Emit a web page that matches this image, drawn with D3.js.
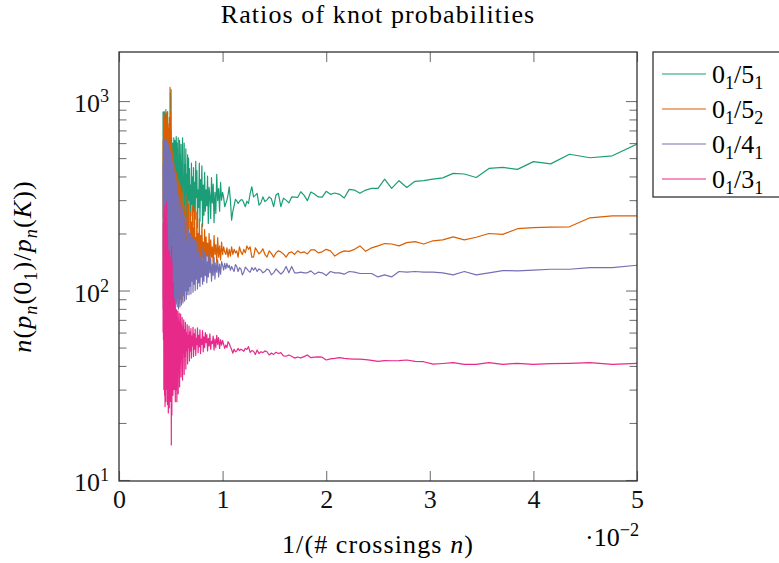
<!DOCTYPE html>
<html>
<head>
<meta charset="utf-8">
<script src="https://cdn.jsdelivr.net/npm/d3@7"></script>
<style>
  body { margin: 0; background: #fff; }
  svg { font-family: 'Liberation Serif', 'DejaVu Serif', serif; }
  .tick line { stroke: #777; stroke-width: 1.1; }
  .domain { display: none; }
  .words { letter-spacing: 1.1px; }
</style>
</head>
<body>
<svg width="779" height="563"></svg>
<script>
  // crossing numbers n, the x value is 1/n
  const crossings = d3.range(20, 236);

  // n(p_n(0_1)/p_n(K)), one value for each n = 20 .. 235
  const ratio51 = [
    593, 514, 502, 524, 466, 479, 436, 447, 441, 395, 412, // 20-30
    415, 393, 387, 380, 377, 350, 380, 346, 387, 346, // 31-40
    346, 339, 326, 339, 342, 308, 322, 327, 322, 334, // 41-50
    311, 312, 323, 331, 298, 319, 332, 310, 311, 312, // 51-60
    290, 300, 307, 277, // 61-64
    326, 319, 277, 305, 312, 301, 295, 312, 290, 282, // 65-74
    326, 318, 312, 353, 326, 288, 296, 277, 290, 301, // 75-84
    301, 295, 288, 298, 303, 280, 262, 235, 300, 353, // 85-94
    320, 300, 288, 277, 310, 330, // 95-100
    300, 372, 262, 345, 298, 410, 255, 330, 228, 365, // 101-110
    290, 395, 240, 318, 350, 226, 402, 280, 340, 262, // 111-120
    420, 250, 360, 218, 455, 300, 385, 232, 470, 275, // 121-130
    340, 215, 430, 310, 480, 238, 372, 262, 445, 220, // 131-140
    398, 285, 470, 248, 360, 212, 440, 300, 500, 235, // 141-150
    520, 260, 410, 205, 560, 310, 460, 228, 600, 280, // 151-160
    380, 210, 640, 330, 470, 240, 590, 215, 520, 300, // 161-170
    620, 232, 450, 205, 640, 290, 560, 225, 600, 260, // 171-180
    650, 240, 520, 180, 620, 300, 560, 200, 640, 260, // 181-190
    480, 170, 600, 320, 560, 250, 640, 190, 1150, 280, // 191-200
    1100, 170, 620, 230, 500, 160, 640, 300, 580, 200, // 201-210
    700, 220, 880, 160, 620, 300, 840, 180, 760, 250, // 211-220
    900, 150, 680, 280, 860, 200, 720, 170, 880, 260, // 221-230
    640, 190, 870, 240, 880 // 231-235
  ];

  const ratio52 = [
    248, 248, 242, 217, 216, 215, 212, 198, 200, 191, 185, // 20-30
    192, 185, 183, 176, 181, 179, 172, 176, 177, 172, // 31-40
    168, 161, 172, 165, 161, 162, 158, 152, 162, 165, // 41-50
    160, 158, 164, 164, 156, 160, 158, 162, 155, 160, // 51-60
    158, 150, 156, 160, // 61-64
    162, 158, 150, 157, 162, 150, 155, 166, 160, 156, // 65-74
    162, 168, 150, 150, 170, 165, 172, 158, 165, 155, // 75-84
    160, 170, 150, 162, 158, 165, 155, 170, 152, 165, // 85-94
    150, 168, 155, 160, 170, 155, // 95-100
    180, 145, 172, 150, 190, 140, 175, 155, 195, 138, // 101-110
    170, 150, 185, 142, 200, 135, 178, 152, 192, 140, // 111-120
    210, 130, 180, 148, 225, 128, 195, 140, 240, 125, // 121-130
    200, 150, 260, 122, 190, 135, 270, 118, 215, 145, // 131-140
    280, 120, 230, 130, 260, 115, 200, 140, 285, 118, // 141-150
    300, 110, 240, 130, 320, 100, 260, 120, 280, 95, // 151-160
    350, 115, 270, 88, 330, 125, 290, 90, 360, 105, // 161-170
    310, 86, 380, 120, 300, 92, 400, 110, 340, 88, // 171-180
    420, 100, 360, 80, 450, 120, 380, 85, 480, 95, // 181-190
    520, 75, 440, 110, 560, 80, 600, 90, 700, 100, // 191-200
    880, 70, 1180, 95, 820, 80, 600, 110, 720, 72, // 201-210
    760, 65, 820, 90, 680, 60, 870, 100, 720, 58, // 211-220
    800, 85, 650, 57, 860, 95, 700, 62, 820, 80, // 221-230
    760, 58, 850, 90, 620 // 231-235
  ];

  const ratio41 = [
    136, 132, 132, 129.5, 129.5, 128, 127, 127.5, 124, 121, 126, // 20-30
    121, 124, 125, 125, 126, 125, 126, 118, 121, 118, // 31-40
    123, 123, 123, 125, 126, 122, 124, 124, 126, 120, // 41-50
    124, 125, 122, 127, 124, 124, 125, 124, 124, 134, // 51-60
    124, 134, 126, 122, // 61-64
    126, 130, 124, 121, 128, 130, 126, 124, 128, 130, // 65-74
    126, 132, 128, 132, 125, 127, 130, 133, 125, 121, // 75-84
    130, 132, 126, 134, 137, 126, 130, 134, 128, 136, // 85-94
    132, 139, 130, 139, 128, 136, // 95-100
    142, 122, 138, 118, 145, 125, 140, 115, 150, 120, // 101-110
    138, 112, 148, 124, 155, 118, 142, 110, 152, 120, // 111-120
    160, 112, 145, 108, 170, 118, 150, 105, 175, 110, // 121-130
    160, 102, 180, 115, 155, 100, 185, 108, 165, 98, // 131-140
    190, 112, 170, 96, 200, 105, 175, 95, 210, 100, // 141-150
    220, 95, 180, 90, 240, 100, 200, 88, 250, 94, // 151-160
    210, 86, 270, 98, 220, 84, 290, 92, 240, 82, // 161-170
    300, 90, 250, 80, 320, 95, 260, 82, 350, 88, // 171-180
    380, 85, 300, 80, 420, 92, 340, 78, 450, 86, // 181-190
    380, 76, 480, 90, 400, 78, 520, 84, 420, 75, // 191-200
    540, 88, 460, 76, 560, 82, 480, 74, 580, 80, // 201-210
    600, 78, 500, 75, 610, 85, 540, 74, 620, 80, // 211-220
    560, 76, 600, 78, 520, 75, 620, 82, 580, 76, // 221-230
    610, 79, 550, 80, 460 // 231-235
  ];

  const ratio31 = [
    41.3, 40.8, 41.6, 41.3, 41.1, 40.8, 41.3, 40.8, 41.6, 40.8, 40.8, // 20-30
    41.6, 41.2, 40.9, 42.1, 42.3, 43, 42.7, 42.6, 42.7, 42.3, // 31-40
    42.8, 43.2, 43.4, 43.4, 43.6, 43.8, 44.2, 43.8, 43.6, 43, // 41-50
    44.5, 44.6, 44.5, 44.2, 45.7, 44.8, 44.1, 44.6, 44.0, 45.0, // 51-60
    45.7, 45.0, 45.2, 47, // 61-64
    46.5, 47.2, 46.0, 46.8, 45.7, 47.5, 48.0, 47.0, 47.5, 46.5, // 65-74
    48.5, 46.0, 47.8, 48.2, 47.2, 50.6, 48.8, 49.5, 47.8, 48.5, // 75-84
    49.0, 48.2, 49.5, 48.0, 47.5, 49.0, 46.7, 48.8, 50.5, 52.5, // 85-94
    53.7, 50.0, 51.5, 49.5, 52.0, 54.5, // 95-100
    51.5, 55.0, 49.5, 56.5, 52.0, 58.0, 50.0, 55.5, 48.5, 57.5, // 101-110
    52.5, 54.0, 49.0, 59.0, 51.0, 56.0, 48.0, 58.5, 53.0, 60.0, // 111-120
    50.0, 57.0, 47.5, 61.5, 52.0, 55.5, 46.5, 62.0, 50.5, 58.0, // 121-130
    47.0, 63.5, 52.0, 56.0, 45.5, 62.5, 49.0, 59.0, 44.8, 64.0, // 131-140
    51.0, 57.5, 44.0, 63.0, 48.0, 60.5, 42.5, 65.0, 50.0, 58.0, // 141-150
    41.0, 66.0, 48.0, 60.0, 38.5, 68.0, 45.0, 62.0, 36.0, 70.0, // 151-160
    47.0, 64.0, 33.7, 72.0, 44.0, 66.0, 35.0, 75.0, 42.0, 68.0, // 161-170
    31.0, 76.0, 46.0, 70.0, 28.5, 78.0, 40.0, 72.0, 25.9, 79.0, // 171-180
    62.0, 30.0, 80.0, 25.9, 72.0, 38.0, 90.0, 30.0, 85.0, 35.0, // 181-190
    110.0, 28.0, 95.0, 32.0, 140.0, 22.0, 170.0, 15.3, 120.0, 30.0, // 191-200
    150.0, 26.0, 105.0, 34.0, 160.0, 24.0, 130.0, 30.0, 165.0, 22.6, // 201-210
    140.0, 28.0, 190.0, 25.0, 220.0, 32.0, 260.0, 294.0, 30.0, 240.0, // 211-220
    26.0, 200.0, 35.0, 250.0, 24.4, 280.0, 28.0, 210.0, 34.0, 260.0, // 221-230
    30.0, 230.0, 55.0, 226.0, 60.0 // 231-235
  ];

  const seriesNames = [['5', '1'], ['5', '2'], ['4', '1'], ['3', '1']];
  const seriesColors = ['#1b9e77', '#d95f02', '#7570b3', '#e7298a'];
  const xTicks = [0, 0.01, 0.02, 0.03, 0.04, 0.05];
  const xTickLabels = ['0', '1', '2', '3', '4', '5'];
  const yMajorTicks = [10, 100, 1000];

  const plot = {left: 119, right: 637, top: 52, bottom: 481};
  const fontSize = 26;

  const svg = d3.select('svg');

  const xScale = d3.scaleLinear().domain([0, 0.05]).range([plot.left, plot.right]);
  const yScale = d3.scaleLog().domain([9.88, 1815]).range([plot.bottom, plot.top]);
  const yMinorTicks = yScale.ticks().filter((d) => yMajorTicks.indexOf(d) < 0);

  // writes text made of parts: [string, 'it' | 'sub' | 'sup' | 'subit']
  function mathText(sel, parts, size) {
    let shift = 0;
    parts.forEach(function(p) {
      const kind = p[1] || '';
      const ts = sel.append('tspan').text(p[0]);
      let target = 0;
      if (kind.indexOf('sub') >= 0) {
        target = size * 0.22;
        ts.attr('font-size', size * 0.7);
      } else if (kind.indexOf('sup') >= 0) {
        target = -size * 0.38;
        ts.attr('font-size', size * 0.7);
      }
      if (kind.indexOf('it') >= 0) ts.attr('font-style', 'italic');
      if (target !== shift) ts.attr('dy', target - shift);
      shift = target;
    });
    return sel;
  }

  svg.append('clipPath').attr('id', 'plot-clip').append('rect')
      .attr('x', plot.left).attr('y', plot.top)
      .attr('width', plot.right - plot.left)
      .attr('height', plot.bottom - plot.top);

  // axes, ticks pointing inwards on all four sides
  const xAxisG = svg.append('g').attr('transform', `translate(0,${plot.bottom})`)
      .call(d3.axisBottom(xScale).tickValues(xTicks).tickSize(-10)
          .tickPadding(9).tickFormat((d, i) => xTickLabels[i]));
  xAxisG.attr('font-family', null).attr('font-size', fontSize);
  xAxisG.selectAll('text').attr('fill', '#111');

  svg.append('g').attr('transform', `translate(0,${plot.top})`)
      .call(d3.axisTop(xScale).tickValues(xTicks).tickSize(-10).tickFormat(''));

  svg.append('g').attr('transform', `translate(${plot.left},0)`)
      .call(d3.axisLeft(yScale).tickValues(yMajorTicks).tickSize(-11).tickFormat(''));
  svg.append('g').attr('transform', `translate(${plot.left},0)`)
      .call(d3.axisLeft(yScale).tickValues(yMinorTicks).tickSize(-7.5).tickFormat(''));
  svg.append('g').attr('transform', `translate(${plot.right},0)`)
      .call(d3.axisRight(yScale).tickValues(yMajorTicks).tickSize(-11).tickFormat(''));
  svg.append('g').attr('transform', `translate(${plot.right},0)`)
      .call(d3.axisRight(yScale).tickValues(yMinorTicks).tickSize(-7.5).tickFormat(''));

  yMajorTicks.forEach(function(v) {
    const t = svg.append('text')
        .attr('x', plot.left - 10).attr('y', yScale(v) + 11)
        .attr('text-anchor', 'end').attr('font-size', fontSize).attr('fill', '#111');
    mathText(t, [['10'], [String(Math.round(Math.log10(v))), 'sup']], fontSize);
  });

  // lines
  const line = d3.line()
      .x((d, i) => xScale(1 / crossings[i]))
      .y((d) => yScale(d));

  svg.append('g').attr('clip-path', 'url(#plot-clip)')
      .selectAll('path')
      .data([ratio51, ratio52, ratio41, ratio31])
      .join('path')
      .attr('d', line)
      .attr('fill', 'none')
      .attr('stroke', (d, i) => seriesColors[i])
      .attr('stroke-width', 1.2)
      .attr('stroke-linejoin', 'round');

  // frame
  svg.append('rect')
      .attr('x', plot.left).attr('y', plot.top)
      .attr('width', plot.right - plot.left)
      .attr('height', plot.bottom - plot.top)
      .attr('fill', 'none').attr('stroke', '#333').attr('stroke-width', 1.3);

  // title and axis labels
  svg.append('text').attr('class', 'words')
      .attr('x', (plot.left + plot.right) / 2).attr('y', 23)
      .attr('text-anchor', 'middle').attr('font-size', fontSize)
      .text('Ratios of knot probabilities');

  mathText(svg.append('text').attr('class', 'words')
      .attr('x', (plot.left + plot.right) / 2).attr('y', 553)
      .attr('text-anchor', 'middle').attr('font-size', fontSize),
  [['1/(# crossings '], ['n', 'it'], [')']], fontSize);

  mathText(svg.append('text')
      .attr('x', plot.right + 2).attr('y', 546)
      .attr('text-anchor', 'end').attr('font-size', fontSize),
  [['·10'], ['−2', 'sup']], fontSize);

  mathText(svg.append('text').attr('class', 'words')
      .attr('transform', `translate(31,${(plot.top + plot.bottom) / 2}) rotate(-90)`)
      .attr('text-anchor', 'middle').attr('font-size', fontSize),
  [['n', 'it'], ['('], ['p', 'it'], ['n', 'subit'], ['(0'], ['1', 'sub'],
    [')/'], ['p', 'it'], ['n', 'subit'], ['('], ['K', 'it'], ['))']], fontSize);

  // legend
  const legend = svg.append('g').attr('transform', 'translate(653,52)');
  legend.append('rect')
      .attr('width', 160).attr('height', 145)
      .attr('fill', '#fff').attr('stroke', '#333').attr('stroke-width', 1.3);
  seriesNames.forEach(function(name, i) {
    const yy = 22 + i * 35;
    legend.append('line')
        .attr('x1', 9).attr('x2', 53).attr('y1', yy).attr('y2', yy)
        .attr('stroke', seriesColors[i]).attr('stroke-width', 1.2);
    mathText(legend.append('text')
        .attr('x', 59).attr('y', yy + 9).attr('font-size', fontSize),
    [['0'], ['1', 'sub'], ['/' + name[0]], [name[1], 'sub']], fontSize);
  });
</script>
</body>
</html>
